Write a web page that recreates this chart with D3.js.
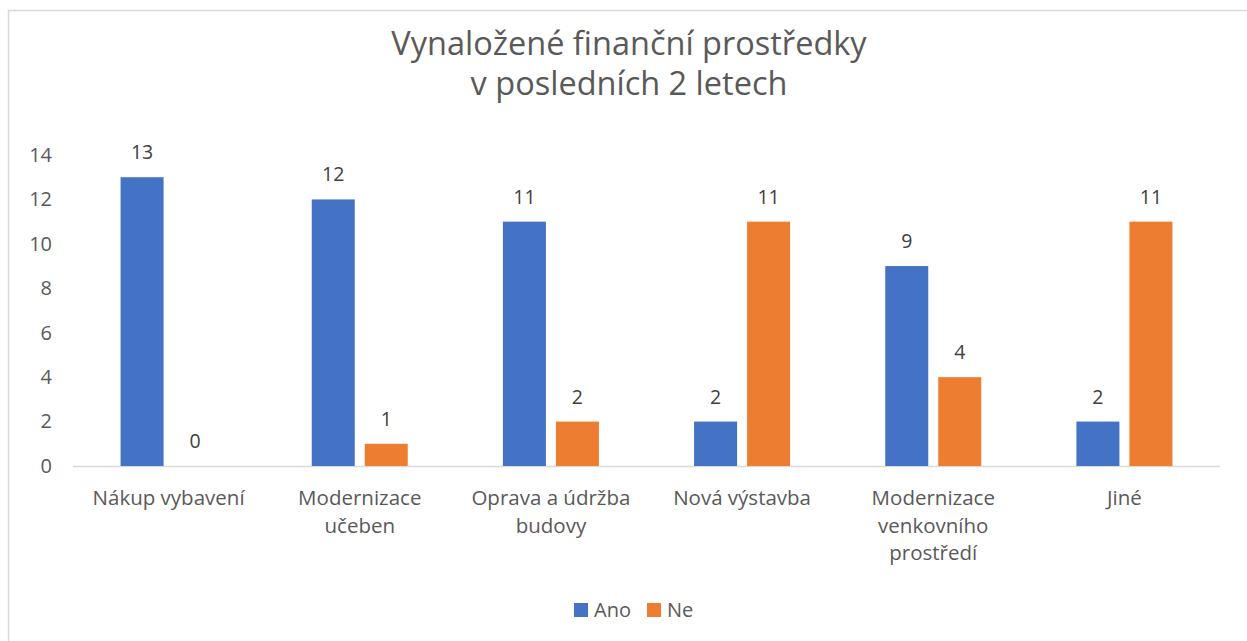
<!DOCTYPE html>
<html><head><meta charset="utf-8">
<script src="https://cdn.jsdelivr.net/npm/d3@7"></script>
<style>body{margin:0;background:#fff}svg{display:block}</style>
</head><body>
<svg id="c" width="1247" height="641"></svg>
<script>
const categories = [["Nákup vybavení"],["Modernizace","učeben"],["Oprava a údržba","budovy"],["Nová výstavba"],["Modernizace","venkovního","prostředí"],["Jiné"]];
const seriesNames = ["Ano","Ne"];
const ano = [13,12,11,2,9,2];
const ne = [0,1,2,11,4,11];
const yTicks = [0,2,4,6,8,10,12,14];
const colors = ["#4472C4","#ED7D31"];
const titleLines = ["Vynaložené finanční prostředky","v posledních 2 letech"];

(function(){
const font = "'Open Sans', sans-serif";
const fs = "20px";
const svg = d3.select("#c");
svg.append("rect").attr("x",8.5).attr("y",10.5).attr("width",1260).attr("height",660)
  .attr("fill","#fff").attr("stroke","#d9d9d9").attr("stroke-width",1.5);

const pL=73, pR=1220, pT=155, pB=466;
const x = d3.scaleBand().domain(d3.range(categories.length)).range([pL,pR]);
const y = d3.scaleLinear().domain([0,14]).range([pB,pT]);
const barW = 43, gap = 10;
const xs = d3.scaleOrdinal().domain([0,1]).range([-(gap/2+barW), gap/2]);

// title
svg.append("text").attr("text-anchor","middle").attr("fill","#595959")
  .style("font-family",font).style("font-size","32.5px")
  .selectAll("tspan").data(titleLines).join("tspan")
  .attr("x",629).attr("y",(d,i)=>55+i*40).text(d=>d);

// y axis
const ya = svg.append("g").attr("transform",`translate(${pL},0)`)
  .call(d3.axisLeft(y).tickValues(yTicks).tickSize(0).tickPadding(21));
ya.select(".domain").remove();
ya.selectAll("text").attr("fill","#595959").style("font-family",font).style("font-size",fs);

// baseline
svg.append("line").attr("x1",pL).attr("x2",pR).attr("y1",pB+0.5).attr("y2",pB+0.5)
  .attr("stroke","#d9d9d9").attr("stroke-width",1.5);

const data = categories.map((c,i)=>[ano[i],ne[i]]);
const g = svg.append("g");
data.forEach((vals,i)=>{
  const cx = x(i)+x.bandwidth()/2;
  vals.forEach((v,s)=>{
    g.append("rect").attr("x",cx+xs(s)).attr("y",y(v)).attr("width",barW)
      .attr("height",pB-y(v)).attr("fill",colors[s]);
    g.append("text").attr("x",cx+xs(s)+barW/2).attr("y",y(v)-18)
      .attr("text-anchor","middle").attr("fill","#404040")
      .style("font-family",font).style("font-size","19.5px").text(v);
  });
  const t = svg.append("text").attr("text-anchor","middle").attr("fill","#595959")
    .style("font-family",font).style("font-size","20.5px");
  t.selectAll("tspan").data(categories[i]).join("tspan")
    .attr("x",cx).attr("y",(d,k)=>505+k*27.5).text(d=>d);
});

// legend
const lg = svg.append("g");
const lx=[574,647];
seriesNames.forEach((n,i)=>{
  lg.append("rect").attr("x",lx[i]).attr("y",603).attr("width",14).attr("height",14).attr("fill",colors[i]);
  lg.append("text").attr("x",lx[i]+20).attr("y",617).attr("fill","#595959")
    .style("font-family",font).style("font-size",fs).text(n);
});
})();
</script>
</body></html>
